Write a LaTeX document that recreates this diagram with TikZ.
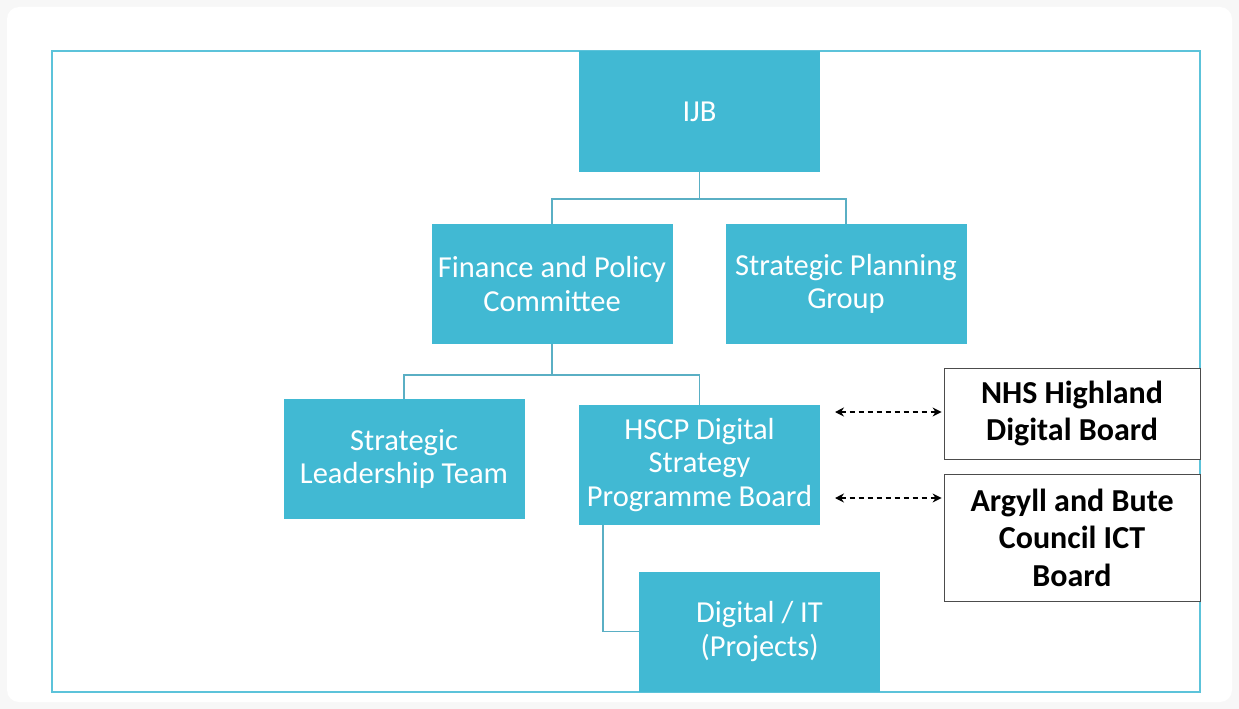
\documentclass[tikz,border=0pt]{standalone}
\usepackage{fontspec}
\setmainfont{Carlito}
\usetikzlibrary{arrows.meta}
\definecolor{teal1}{HTML}{41B9D3}
\definecolor{frameC}{HTML}{5CC3DA}
\definecolor{lineC}{HTML}{5AAFC4}
\tikzset{
  tbox/.style={fill=teal1, draw=none, minimum width=241pt, minimum height=120pt, inner sep=0pt,
    text=white, align=center, font=\fontsize{30.5}{33.5}\selectfont},
  wbox/.style={fill=white, draw=black!70, line width=0.8pt, minimum width=256pt, inner sep=0pt,
    text=black, align=center, font=\fontsize{32}{37.5}\selectfont\bfseries},
  conn/.style={draw=lineC, line width=1.6pt},
  darr/.style={{Stealth[length=9pt,width=9pt]}-{Stealth[length=9pt,width=9pt]}, black, line width=1.3pt, dash pattern=on 5pt off 4pt}
}
\begin{document}
\begin{tikzpicture}[x=1pt,y=-1pt]
\useasboundingbox (0,0) rectangle (1239,709);
\fill[black!3] (0,0) rectangle (1239,709);
\fill[white, rounded corners=12pt] (7,7) rectangle (1232,702);
\draw[frameC, line width=1.5pt] (52,51) rectangle (1200,692);
\node[tbox] (ijb) at (699.5,111.5) {IJB};
\node[tbox] (fin) at (552,284) {Finance and Policy\\Committee};
\node[tbox] (spg) at (846,284) {Strategic Planning\\Group};
\node[tbox] (slt) at (404,459) {Strategic\\Leadership Team};
\node[tbox] (hscp) at (699.5,465) {HSCP Digital\\Strategy\\Programme Board};
\node[tbox] (dit) at (759.5,631.5) {Digital / IT\\(Projects)};
\node[wbox, minimum height=91pt] (nhs) at (1072,413.5) {NHS Highland\\Digital Board};
\node[wbox, minimum height=127pt] (arg) at (1072,537.5) {Argyll and Bute\\Council ICT\\Board};
\coordinate (j1) at (699.5,199);
\coordinate (j2) at (552,375);
\coordinate (d1) at (603,525);
\coordinate (a1) at (835,412);
\coordinate (a2) at (835,498);
\draw[conn] (ijb.south) -- (j1) -| (fin.north);
\draw[conn] (j1) -| (spg.north);
\draw[conn] (fin.south) -- (j2) -| (slt.north);
\draw[conn] (j2) -| (hscp.north);
\draw[conn] (d1) |- (dit.west);
\draw[darr] (a1) -- ([xshift=-2pt]nhs.west |- a1);
\draw[darr] (a2) -- ([xshift=-2pt]arg.west |- a2);
\end{tikzpicture}
\end{document}
